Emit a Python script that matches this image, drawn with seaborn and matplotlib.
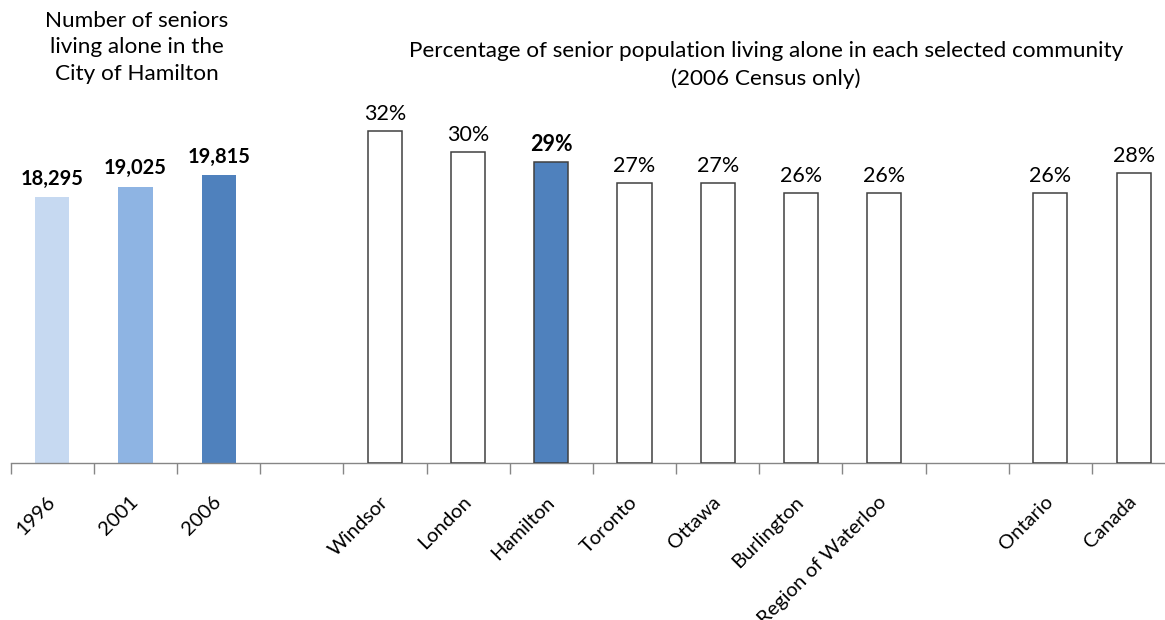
import pandas as pd
import matplotlib
matplotlib.use("Agg")
import matplotlib.pyplot as plt
import seaborn as sns

# Data
years = ["1996", "2001", "2006"]
seniors_alone = [18295, 19025, 19815]
year_colors = ["#C6D9F1", "#8EB4E3", "#4F81BD"]

communities = ["Windsor", "London", "Hamilton", "Toronto", "Ottawa",
               "Burlington", "Region of Waterloo", "Ontario", "Canada"]
pct_alone = [32, 30, 29, 27, 27, 26, 26, 26, 28]

# full slot order on the shared category axis (two empty gap slots)
order = years + ["gap1"] + communities[:7] + ["gap2"] + communities[7:]
tick_labels = [c if not c.startswith("gap") else "" for c in order]

sns.set_theme(style="white")
plt.rcParams["font.family"] = ["Lato", "DejaVu Sans"]
plt.rcParams["text.color"] = "black"
plt.rcParams["xtick.labelcolor"] = "black"

W, H = 1165, 620
fig = plt.figure(figsize=(W / 100, H / 100), dpi=100)
ax = fig.add_axes([10.7 / W, (H - 463) / H, 1164.5 / W, 363 / H])
ax2 = ax.twinx()

df_years = pd.DataFrame({"cat": years, "value": seniors_alone})
df_comm = pd.DataFrame({"cat": communities, "value": pct_alone})

sns.barplot(data=df_years, x="cat", y="value", hue="cat", order=order,
            hue_order=years, palette=dict(zip(years, year_colors)),
            width=0.41, legend=False, ax=ax, linewidth=0, saturation=1)

comm_colors = {c: ("#4F81BD" if c == "Hamilton" else "white") for c in communities}
sns.barplot(data=df_comm, x="cat", y="value", hue="cat", order=order,
            hue_order=communities, palette=comm_colors, width=0.41,
            legend=False, ax=ax2, edgecolor="#404040", linewidth=1.1,
            saturation=1)

ax.set_ylim(0, 25000)
ax2.set_ylim(0, 35)
for a in (ax, ax2):
    a.set_xlim(-0.5, len(order) - 0.5)
    a.set_xlabel("")
    a.set_ylabel("")
    a.set_yticks([])
    for s in ["top", "right", "left"]:
        a.spines[s].set_visible(False)
    a.patch.set_alpha(0)
ax2.spines["bottom"].set_visible(False)
ax.spines["bottom"].set_color("#868686")
ax.spines["bottom"].set_linewidth(1.0)

# tick marks at category boundaries, labels at centres
bounds = [i - 0.5 for i in range(len(order) + 1)]
ax.set_xticks(bounds)
ax.set_xticklabels([])
ax.tick_params(axis="x", which="major", bottom=True, length=8, width=1,
               color="#868686", direction="out")
ax.set_xticks(range(len(order)), minor=True)
ax.set_xticklabels(tick_labels, minor=True, rotation=45, ha="right",
                   va="center", rotation_mode="anchor", fontsize=14.5)
ax.tick_params(axis="x", which="minor", length=0, pad=26)
ax2.tick_params(axis="x", which="both", bottom=False, labelbottom=False)

# value labels
for cat, v in zip(years, seniors_alone):
    ax.annotate(f"{v:,}", (order.index(cat), v), xytext=(0, 6),
                textcoords="offset points", ha="center", va="bottom",
                fontsize=14.5, fontweight="bold")
for cat, v in zip(communities, pct_alone):
    ax2.annotate(f"{v}%", (order.index(cat), v), xytext=(0, 5),
                 textcoords="offset points", ha="center", va="bottom",
                 fontsize=15.5,
                 fontweight="bold" if cat == "Hamilton" else "normal")

# titles
fig.text(137 / W, 1 - 11 / H,
         "Number of seniors\nliving alone in the\nCity of Hamilton",
         ha="center", va="top", fontsize=16.2, linespacing=1.4)
fig.text(766 / W, 1 - 41 / H,
         "Percentage of senior population living alone in each selected community\n(2006 Census only)",
         ha="center", va="top", fontsize=16.2, linespacing=1.45)

fig.savefig("out.png", dpi=100)
